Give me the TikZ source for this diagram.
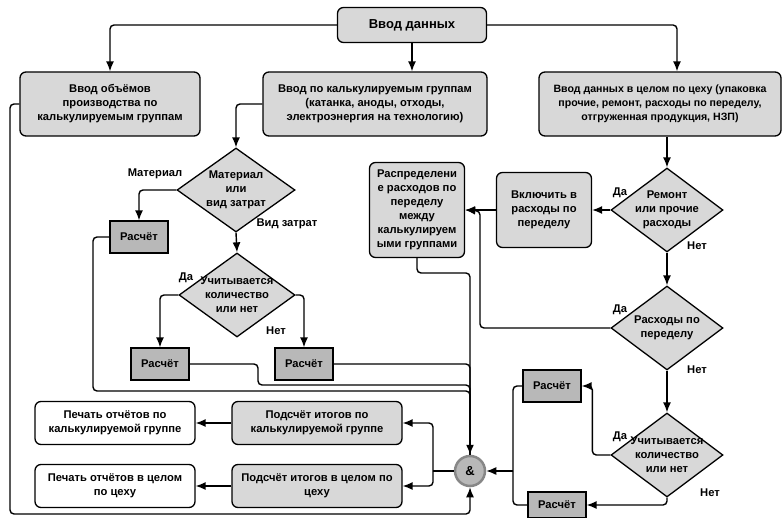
\documentclass[tikz,border=0pt]{standalone}
\usepackage{fontspec}
\setmainfont{Liberation Sans}
\usetikzlibrary{shapes.geometric,arrows.meta}
\definecolor{boxgray}{RGB}{216,216,216}
\definecolor{calcgray}{RGB}{184,184,184}
\definecolor{ringgray}{RGB}{135,135,135}
\newcommand{\txt}{\fontsize{11.2}{14}\selectfont\bfseries}
\tikzset{
  inbox/.style={draw,line width=1.3pt,rounded corners=6pt,fill=boxgray,align=center,font=\txt,inner sep=2pt},
  outbox/.style={inbox,fill=white},
  calcbox/.style={draw,line width=1.3pt,fill=calcgray,font=\txt,minimum width=58pt,minimum height=32pt},
  choice/.style={draw,diamond,line width=1.3pt,fill=boxgray,minimum width=112pt,minimum height=84pt,inner sep=0pt},
  choicetxt/.style={align=center,font=\txt},
  ans/.style={font=\txt},
  flow/.style={line width=1.4pt,rounded corners=4pt},
}
\begin{document}
\begin{tikzpicture}[x=1pt,y=-1pt,>={Latex[length=10pt,width=8pt]}]
	\useasboundingbox (0,0) rectangle (783,518);

	% input
	\node[inbox,minimum width=149pt,minimum height=35pt,font=\fontsize{13}{14}\selectfont\bfseries] (start) at (412,25) {Ввод данных};
	\node[inbox,minimum width=180pt,minimum height=64pt] (vol) at (110,104) {Ввод объёмов\\производства по\\калькулируемым группам};
	\node[inbox,minimum width=224pt,minimum height=64pt] (grp) at (375,104) {Ввод по калькулируемым группам\\(катанка, аноды, отходы,\\электроэнергия на технологию)};
	\node[inbox,minimum width=242pt,minimum height=64pt,font=\fontsize{10.6}{14}\selectfont\bfseries] (shop) at (660,104) {Ввод данных в целом по цеху (упаковка\\прочие, ремонт, расходы по переделу,\\отгруженная продукция, НЗП)};

	% left branch
	\node[choice,minimum width=118pt,label={[choicetxt]center:{Материал\\или\\вид затрат}}] (mat) at (236,190) {};
	\node[calcbox] (calcA) at (139,237) {Расчёт};
	\node[choice,minimum width=116pt,label={[choicetxt]center:{Учитывается\\количество\\или нет}}] (qtyA) at (237,295) {};
	\node[calcbox] (calcB) at (160,364) {Расчёт};
	\node[calcbox] (calcC) at (304,364) {Расчёт};
	\node[ans] (lmat) at (155,174) {Материал};
	\node[ans] (lvid) at (287,224) {Вид затрат};
	\node[ans] (lyesA) at (186,278) {Да};
	\node[ans] (lnoA) at (276,331) {Нет};

	% right branch
	\node[inbox,minimum width=95pt,minimum height=95pt] (distr) at (417,210) {Распределени\\е расходов по\\переделу\\между\\калькулируем\\ыми группами};
	\node[inbox,minimum width=95pt,minimum height=75pt] (incl) at (544,210) {Включить в\\расходы по\\переделу};
	\node[choice,label={[choicetxt]center:{Ремонт\\или прочие\\расходы}}] (rep) at (667,210) {};
	\node[choice,label={[choicetxt]center:{Расходы по\\переделу}}] (conv) at (667,328) {};
	\node[choice,label={[choicetxt]center:{Учитывается\\количество\\или нет}}] (qtyB) at (667,455) {};
	\node[calcbox] (calcD) at (552,386) {Расчёт};
	\node[calcbox,minimum height=26pt] (calcE) at (557,505) {Расчёт};
	\node[ans] (lyesR) at (620,193) {Да};
	\node[ans] (lnoR) at (697,246) {Нет};
	\node[ans] (lyesC) at (620,310) {Да};
	\node[ans] (lnoC) at (697,370) {Нет};
	\node[ans] (lyesB) at (620,437) {Да};
	\node[ans] (lnoB) at (710,493) {Нет};

	% totals
	\node[circle,draw=ringgray,line width=2.5pt,fill=calcgray,minimum size=30pt,inner sep=0pt,font=\fontsize{13}{14}\selectfont\bfseries] (and) at (470,471) {\&};
	\node[inbox,minimum width=170pt,minimum height=43pt] (sumA) at (317,423) {Подсчёт итогов по\\калькулируемой группе};
	\node[inbox,minimum width=170pt,minimum height=43pt] (sumB) at (317,486) {Подсчёт итогов в целом по\\цеху};
	\node[outbox,minimum width=160pt,minimum height=43pt] (prA) at (115,423) {Печать отчётов по\\калькулируемой группе};
	\node[outbox,minimum width=160pt,minimum height=43pt] (prB) at (115,486) {Печать отчётов в целом\\по цеху};

	\coordinate (jconv) at (480,211);
	\coordinate (jcalc) at (513,471);
	\coordinate (jdistr) at (470,273);
	\coordinate (jsum) at (433,471);

	\draw[flow,->] (start.west) -| (vol.north);
	\draw[flow,->] (start.south) -- (start.south |- grp.north);
	\draw[flow,->] (start.east) -| ([xshift=17pt]shop.north);
	\draw[flow,->] (rep.north |- shop.south) -- (rep.north);

	\draw[flow,->] (grp.west) -| (mat.north);
	\draw[flow,->] (mat.west) -| (calcA.north);
	\draw[flow,->] (mat.south) -- (qtyA.north);
	\draw[flow,->] (qtyA.west) -| (calcB.north);
	\draw[flow,->] (qtyA.east) -| (calcC.north);

	\draw[flow,->] (rep.west) -- (incl.east);
	\draw[flow,->] (incl.west) -- (distr.east);
	\draw[flow,->] (rep.south) -- (conv.north);
	\draw[flow,->] (conv.south) -- (qtyB.north);
	\draw[flow,->] (conv.west) -| (jconv) -- (distr.east);
	\draw[flow,->] (qtyB.west) -- ++(-18,0) |- (calcD.east);
	\draw[flow,->] (qtyB.south) |- (calcE.east);
	\draw[flow] (calcD.west) -| (jcalc);
	\draw[flow] (calcE.west) -| (jcalc);
	\draw[flow,->] (jcalc) -- (and.east);

	\draw[flow] (calcC.east) -| (and.north);
	\draw[flow] (calcB.east) -- (258,364) -- (258,385) -| (and.north);
	\draw[flow] (calcA.west) -- (93,237) -- (93,391) -| (and.north);
	\draw[flow,->] (distr.south) |- (jdistr) -- (and.north);
	\draw[flow,->] (vol.west) -| (10,514) -| (and.south);

	\draw[flow] (and.west) -- (jsum);
	\draw[flow,->] (jsum) |- (sumA.east);
	\draw[flow,->] (jsum) |- (sumB.east);
	\draw[flow,->] (sumA.west) -- (prA.east);
	\draw[flow,->] (sumB.west) -- (prB.east);
\end{tikzpicture}
\end{document}
